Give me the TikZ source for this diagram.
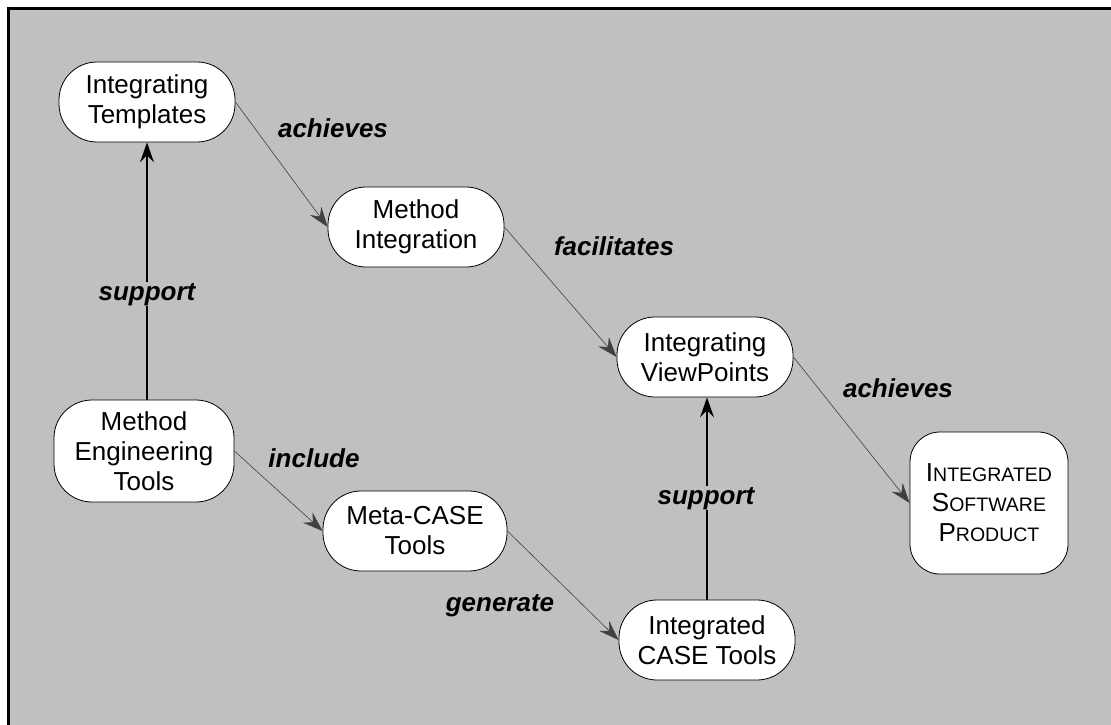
\documentclass[tikz,border=0pt]{standalone}
\usepackage{fontspec}
\setmainfont{Liberation Sans}
\usetikzlibrary{arrows.meta}
\definecolor{panelgray}{RGB}{192,192,192}
\newcommand{\capword}[2]{#1{\fontsize{19.5}{30}\selectfont #2}}

\begin{document}
\begin{tikzpicture}[x=1pt,y=-1pt,
  box/.style={draw,line width=0.8pt,fill=white,rounded corners=38pt,minimum width=176pt,minimum height=80pt,align=center,inner sep=0pt,font=\fontsize{26}{30}\selectfont},
  rel/.style={anchor=base,fill=panelgray,inner sep=1pt,font=\fontsize{26}{30}\selectfont\bfseries\itshape},
  thinarr/.style={draw=black!75,line width=0.6pt,-{Stealth[length=20pt,width=14pt,inset=7pt]}},
  thickarr/.style={draw=black,line width=1.4pt,-{Stealth[length=20pt,width=14pt,inset=7pt]}}]
\useasboundingbox (0,0) rectangle (1111,725);
% panel
\fill[white] (0,0) rectangle (1111,725);
\fill[panelgray] (8,8) rectangle (1111,725);
\draw[line width=3pt] (1111,8.5) -- (8.5,8.5) -- (8.5,725);

\node[box] (tmpl) at (147,102) {Integrating\\Templates};
\node[box] (mint) at (416,227) {Method\\Integration};
\node[box] (vpts) at (705,357) {Integrating\\ViewPoints};
\node[box,minimum width=180pt,minimum height=102pt] (metools) at (144,451) {Method\\Engineering\\Tools};
\node[box,minimum width=184pt] (mcase) at (415,531) {Meta-CASE\\Tools};
\node[box] (icase) at (707,640) {Integrated\\CASE Tools};
\node[box,minimum width=158pt,minimum height=142pt,rounded corners=30pt] (isp) at (989,503)
  {\capword{I}{NTEGRATED}\\\capword{S}{OFTWARE}\\\capword{P}{RODUCT}};

% relations
\draw[thickarr] (tmpl.south |- metools.north) -- (tmpl.south);
\draw[thinarr] (tmpl.east) -- (mint.west);
\draw[thinarr] (mint.east) -- (vpts.west);
\draw[thinarr] (vpts.east) -- (isp.west);
\draw[thinarr] (metools.east) -- (mcase.west);
\draw[thinarr] (mcase.east) -- (icase.west);
\draw[thickarr] (icase.north) -- (vpts.south -| icase.north);

\node[rel] (sup1) at (147,300) {support};
\node[rel] (ach1) at (333,137) {achieves};
\node[rel] (fac) at (614,255) {facilitates};
\node[rel] (ach2) at (898,397) {achieves};
\node[rel] (inc) at (314,467) {include};
\node[rel] (gen) at (500,611) {generate};
\node[rel] (sup2) at (706,504) {support};
\end{tikzpicture}
\end{document}
